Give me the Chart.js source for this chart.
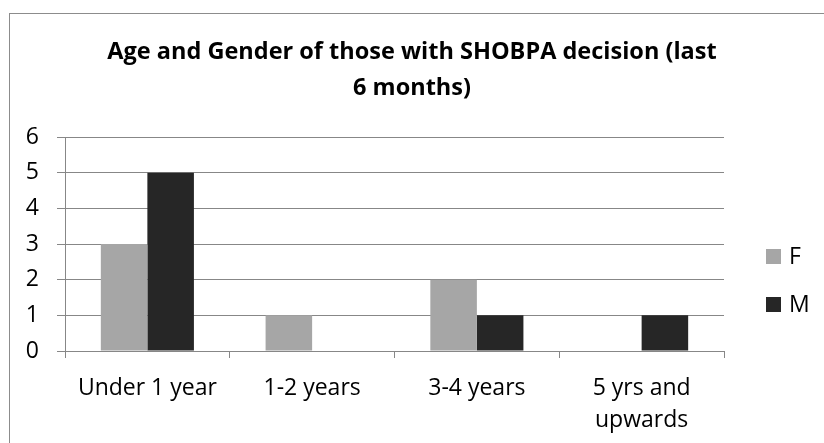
<!DOCTYPE html>
<html>
<head>
<meta charset="utf-8">
<script src="https://cdn.jsdelivr.net/npm/chart.js@4.4.0/dist/chart.umd.min.js"></script>
<style>
    html, body { margin: 0; padding: 0; background: #ffffff; overflow: hidden; }
    #wrap { position: relative; width: 824px; height: 443px; }
    #frame { position: absolute; left: 9px; top: 13px; width: 900px; height: 500px; border: 1px solid #8c8c8c; box-sizing: border-box; }
    #chart { position: absolute; left: 0; top: 0; }
</style>
</head>
<body>
<div id="wrap">
    <div id="frame"></div>
    <canvas id="chart" width="824" height="443"></canvas>
</div>
<script>
// Veriler
const categories = ['Under 1 year', '1-2 years', '3-4 years', ['5 yrs and', 'upwards']];
const femaleValues = [3, 1, 2, 0];
const maleValues = [5, 0, 1, 1];
const titleLines = ['Age and Gender of those with SHOBPA decision (last', '6 months)'];

const gridColor = '#878787';
const fontFamily = "'Open Sans', 'Noto Sans', sans-serif";

// Sağ taraftaki lejant: düzen motoruna kutu olarak eklenir
const sideLegend = {
    id: 'sideLegend',
    beforeInit(chart) {
        const box = {
            position: 'right',
            weight: 1000,
            fullSize: false,
            options: {},
            isHorizontal() { return false; },
            update(maxWidth, maxHeight) {
                this.width = 100;
                this.height = maxHeight;
            },
            draw() {
                const ctx = chart.ctx;
                ctx.save();
                ctx.font = '23px ' + fontFamily;
                ctx.textBaseline = 'middle';
                chart.data.datasets.forEach((ds, i) => {
                    const y = 256 + i * 48;
                    ctx.fillStyle = ds.backgroundColor;
                    ctx.fillRect(this.left + 42, y - 7, 15, 15);
                    ctx.fillStyle = '#000000';
                    ctx.fillText(ds.label, this.left + 65, y + 1);
                });
                ctx.restore();
            }
        };
        Chart.layouts.addBox(chart, box);
    }
};

new Chart(document.getElementById('chart'), {
    type: 'bar',
    data: {
        labels: categories,
        datasets: [
            { label: 'F', data: femaleValues, backgroundColor: '#a6a6a6' },
            { label: 'M', data: maleValues, backgroundColor: '#262626' }
        ]
    },
    options: {
        responsive: false,
        animation: false,
        devicePixelRatio: 1,
        layout: { padding: 0 },
        datasets: {
            bar: { barPercentage: 1, categoryPercentage: 0.565 }
        },
        plugins: {
            legend: { display: false },
            tooltip: { enabled: false },
            title: {
                display: true,
                text: titleLines,
                color: '#000000',
                font: { family: fontFamily, size: 23.5, weight: 'bold', lineHeight: '36px' },
                padding: { top: 34, bottom: 31 }
            }
        },
        scales: {
            x: {
                grid: {
                    display: true,
                    drawOnChartArea: false,
                    drawTicks: true,
                    tickLength: 7,
                    color: gridColor
                },
                border: { display: true, color: gridColor },
                ticks: {
                    color: '#000000',
                    padding: 15,
                    maxRotation: 0,
                    font: { family: fontFamily, size: 23, lineHeight: 1.37 }
                },
                afterFit(scale) { scale.height = 92; }
            },
            y: {
                min: 0,
                max: 6,
                grid: { color: gridColor, tickLength: 8 },
                border: { display: true, color: gridColor },
                ticks: {
                    stepSize: 1,
                    color: '#000000',
                    padding: 18,
                    font: { family: fontFamily, size: 23 }
                },
                afterFit(scale) { scale.width = 65; }
            }
        }
    },
    plugins: [sideLegend]
});
</script>
</body>
</html>
